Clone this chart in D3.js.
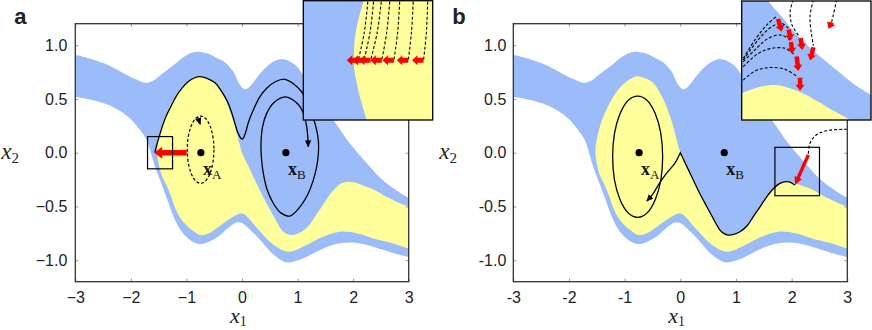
<!DOCTYPE html>
<html>
<head>
<meta charset="utf-8">
<script src="https://cdn.jsdelivr.net/npm/d3@7"></script>
<style>
  body { margin: 0; background: #fff; }
  text { fill: #222; }
</style>
</head>
<body>
<div id="container"></div>
<script>
// ---- data (state-space coordinates x1, x2) ----
const xTicks = [-3, -2, -1, 0, 1, 2, 3];
const yTicks = [-1, -0.5, 0, 0.5, 1];
const xTickLabelsA = ['\u22123', '\u22122', '\u22121', '0', '1', '2', '3'];
const yTickLabelsA = ['\u22121.0', '\u22120.5', '0.0', '0.5', '1.0'];
const xTickLabelsB = ['-3', '-2', '-1', '0', '1', '2', '3'];
const yTickLabelsB = ['-1.0', '-0.5', '0.0', '0.5', '1.0'];

const pointA = [-0.74, 0];
const pointB = [0.79, 0];

// outer edges of the coloured (blue) region
const upperEdge = [[-3.05, 0.91], [-3, 0.909], [-2.7, 0.87], [-2.41, 0.816], [-2.1, 0.73], [-1.9, 0.68],
  [-1.745, 0.651], [-1.6, 0.67], [-1.45, 0.73], [-1.265, 0.80], [-1.05, 0.89], [-0.9, 0.93], [-0.786, 0.94],
  [-0.6, 0.92], [-0.45, 0.88], [-0.306, 0.84], [-0.15, 0.75], [-0.05, 0.64], [0.054, 0.59], [0.15, 0.62],
  [0.3, 0.72], [0.444, 0.80], [0.6, 0.855], [0.74, 0.87], [0.95, 0.82], [1.15, 0.68], [1.4, 0.47],
  [1.65, 0.30], [1.95, 0.08], [2.25, -0.10], [2.52, -0.25], [2.75, -0.34], [3.0, -0.42], [3.05, -0.43]];
const lowerEdge = [[-3.05, 0.525], [-3, 0.521], [-2.7, 0.49], [-2.4, 0.444], [-2.2, 0.39], [-1.985, 0.304],
  [-1.85, 0.22], [-1.715, 0.118], [-1.64, 0.0], [-1.565, -0.13], [-1.47, -0.26], [-1.385, -0.378],
  [-1.3, -0.5], [-1.205, -0.626], [-1.09, -0.73], [-0.966, -0.797], [-0.86, -0.835], [-0.756, -0.849],
  [-0.6, -0.83], [-0.426, -0.78], [-0.25, -0.70], [-0.1, -0.65], [0.0, -0.655], [0.15, -0.72],
  [0.324, -0.81], [0.55, -0.94], [0.8, -1.02], [0.95, -1.01], [1.164, -0.967], [1.464, -0.89],
  [1.764, -0.843], [2.064, -0.84], [2.364, -0.874], [2.7, -0.93], [3.0, -0.97], [3.05, -0.975]];

// basin of x_A (yellow): top edge to the cusp, separatrix, bottom edge back
const basinTop = [[-1.524, -0.02], [-1.52, 0.06], [-1.49, 0.15], [-1.44, 0.25], [-1.37, 0.35], [-1.28, 0.45],
  [-1.18, 0.54], [-1.06, 0.62], [-0.95, 0.67], [-0.85, 0.70], [-0.74, 0.71], [-0.62, 0.69], [-0.49, 0.65],
  [-0.38, 0.57], [-0.28, 0.47], [-0.2, 0.36], [-0.13, 0.25], [-0.07, 0.13], [0.0, 0.0]];
const separatrix = [[0, 0], [0.11, -0.12], [0.233, -0.254], [0.35, -0.38], [0.474, -0.50], [0.6, -0.62],
  [0.713, -0.72], [0.78, -0.75], [0.862, -0.766], [0.96, -0.76], [1.072, -0.735], [1.2, -0.68],
  [1.311, -0.595], [1.45, -0.49], [1.552, -0.41], [1.68, -0.33], [1.79, -0.285], [1.91, -0.27],
  [2.05, -0.28], [2.2, -0.31], [2.36, -0.34], [2.6, -0.41], [2.8, -0.46], [3.0, -0.50], [3.05, -0.51]];
const basinBottom = [[3.05, -0.895], [3.0, -0.89], [2.7, -0.84], [2.364, -0.797], [2.064, -0.75],
  [1.764, -0.735], [1.464, -0.78], [1.164, -0.859], [0.95, -0.91], [0.8, -0.92], [0.55, -0.85],
  [0.3, -0.72], [0.1, -0.60], [-0.005, -0.564], [-0.2, -0.61], [-0.426, -0.69], [-0.6, -0.75],
  [-0.756, -0.766], [-0.9, -0.72], [-1.085, -0.626], [-1.2, -0.52], [-1.296, -0.378], [-1.38, -0.28],
  [-1.458, -0.19], [-1.50, -0.10], [-1.524, -0.02]];

// panel a: kicked trajectory that leaves basin A and settles on B
const trajA = [[-1.57, 0.0], [-1.53, 0.08], [-1.49, 0.15], [-1.43, 0.25], [-1.37, 0.335], [-1.28, 0.43],
  [-1.19, 0.52], [-1.08, 0.60], [-0.97, 0.66], [-0.86, 0.695], [-0.756, 0.707], [-0.62, 0.69],
  [-0.486, 0.65], [-0.38, 0.58], [-0.275, 0.49], [-0.19, 0.38], [-0.126, 0.27], [-0.07, 0.18],
  [-0.02, 0.135], [0.012, 0.128], [0.06, 0.18], [0.12, 0.29], [0.203, 0.397], [0.32, 0.52], [0.444, 0.60],
  [0.6, 0.66], [0.774, 0.683], [0.93, 0.64], [1.074, 0.567], [1.18, 0.47], [1.254, 0.366], [1.33, 0.24],
  [1.373, 0.118], [1.375, 0.0], [1.344, -0.13], [1.28, -0.26], [1.193, -0.378], [1.05, -0.50],
  [0.864, -0.589], [0.7, -0.56], [0.563, -0.47], [0.45, -0.34], [0.383, -0.19], [0.35, -0.05],
  [0.342, 0.087], [0.37, 0.24], [0.444, 0.366], [0.58, 0.47], [0.774, 0.52], [0.92, 0.49], [1.044, 0.428],
  [1.12, 0.34], [1.164, 0.242], [1.185, 0.14], [1.193, 0.056]];
const cycleA = {cx: -0.745, cy: 0.028, rx: 0.24, ry: 0.313};
const cycleATail = [[-0.80, 0.335], [-0.775, 0.30], [-0.752, 0.265]];
const kickA = [[-0.995, 0], [-1.58, 0]];
const boxA = [[-1.7, 0.15], [-1.25, -0.15]];

// panel b
const cycleB = {cx: -0.766, cy: -0.037, rx: 0.449, ry: 0.564};
const trajB = [[2.06, -0.30], [1.98, -0.275], [1.91, -0.27], [1.79, -0.285], [1.68, -0.33], [1.552, -0.41],
  [1.45, -0.49], [1.311, -0.595], [1.2, -0.68], [1.072, -0.735], [0.96, -0.76], [0.862, -0.766],
  [0.78, -0.75], [0.713, -0.72], [0.6, -0.62], [0.474, -0.50], [0.35, -0.38], [0.233, -0.254],
  [0.11, -0.12], [0.0, 0.0]];
const trajBTail = [[0.0, 0.0], [-0.1, -0.1], [-0.245, -0.19], [-0.37, -0.28], [-0.485, -0.378], [-0.60, -0.45]];
const approachB = [[2.30, -0.01], [2.32, 0.07], [2.36, 0.12], [2.43, 0.16], [2.51, 0.185], [2.63, 0.205],
  [2.75, 0.213], [2.99, 0.218]];
const kickB = [[2.30, -0.02], [2.06, -0.30]];
const boxB = [[1.7, 0.05], [2.5, -0.4]];

// inset a: trajectories sliding down to the kick line, kicks to the left
const insetADomain = [[-1.7, -1.25], [0.15, -0.15]];
const insetADashes = [
  [[-1.474, 0.16], [-1.488, 0.07], [-1.509, 0.0]],
  [[-1.454, 0.16], [-1.468, 0.07], [-1.489, 0.0]],
  [[-1.427, 0.16], [-1.443, 0.07], [-1.466, 0.0]],
  [[-1.398, 0.16], [-1.410, 0.07], [-1.427, 0.0]],
  [[-1.364, 0.16], [-1.372, 0.07], [-1.385, 0.0]],
  [[-1.317, 0.16], [-1.324, 0.07], [-1.335, 0.0]],
  [[-1.267, 0.16], [-1.272, 0.07], [-1.282, 0.0]]];
const insetAKickLen = 0.040;

// inset b: own edges as drawn in the magnified view
const insetBDomain = [[1.7, 2.5], [0.05, -0.4]];
const insetBWhiteEdge = [[1.84, 0.08], [1.865, 0.05], [1.947, -0.009], [2.051, -0.085], [2.174, -0.154],
  [2.298, -0.217], [2.401, -0.268], [2.5, -0.305], [2.55, -0.32]];
const insetBYellowEdge = [[1.65, -0.31], [1.7, -0.299], [1.782, -0.28], [1.906, -0.268], [2.03, -0.287],
  [2.154, -0.324], [2.277, -0.368], [2.36, -0.396], [2.42, -0.43]];
const insetBDashes = [
  [[1.710, -0.249], [1.782, -0.215], [1.865, -0.202], [1.968, -0.208], [2.040, -0.234]],
  [[1.710, -0.198], [1.803, -0.148], [1.886, -0.129], [1.968, -0.129], [2.030, -0.154]],
  [[1.710, -0.179], [1.782, -0.135], [1.865, -0.091], [1.947, -0.079], [1.999, -0.098]],
  [[1.710, -0.167], [1.782, -0.097], [1.855, -0.041], [1.917, -0.007]],
  [[1.710, -0.173], [1.803, -0.096], [1.886, -0.047], [1.947, -0.035], [1.988, -0.053]],
  [[2.02, 0.055], [2.0, 0.011], [2.01, -0.039], [2.051, -0.080]],
  [[2.144, 0.055], [2.123, -0.006], [2.13, -0.069], [2.144, -0.119]],
  [[2.288, 0.055], [2.268, 0.0], [2.257, -0.028]]];
const insetBKicks = [
  [[2.061, -0.240], [2.061, -0.289]],
  [[2.040, -0.160], [2.051, -0.215]],
  [[2.005, -0.105], [2.013, -0.150]],
  [[1.925, -0.018], [1.947, -0.066]],
  [[1.990, -0.058], [2.005, -0.100]],
  [[2.065, -0.090], [2.075, -0.135]],
  [[2.144, -0.125], [2.123, -0.175]],
  [[2.257, -0.030], [2.237, -0.055]]];

// ---- layout ----
const w = 872, h = 330;
const blue = '#9bbbf9', yellow = '#ffff9c';
const frameTop = 23.7, frameBottom = 281.7;
const panels = [
  {key: 'a', left: 75.3, right: 408.7, xl: xTickLabelsA, yl: yTickLabelsA, inset: [303.3, 0.7, 432.7, 120]},
  {key: 'b', left: 513.3, right: 847.3, xl: xTickLabelsB, yl: yTickLabelsB, inset: [741.7, 1, 871, 120]}
];

const svg = d3.select('#container').append('svg')
  .attr('width', w).attr('height', h)
  .attr('viewBox', [0, 0, w, h])
  .style('font-family', '"Liberation Sans", Arial, sans-serif');

const defs = svg.append('defs');
defs.append('marker')
  .attr('id', 'head')
  .attr('viewBox', '0 0 10 10')
  .attr('refX', 9).attr('refY', 5)
  .attr('markerWidth', 7).attr('markerHeight', 7)
  .attr('markerUnits', 'userSpaceOnUse')
  .attr('orient', 'auto')
  .append('path').attr('d', 'M0,0.5L10,5L0,9.5Z').attr('fill', '#000');

function smooth(x, y) {
  return d3.line().x(d => x(d[0])).y(d => y(d[1])).curve(d3.curveCatmullRom.alpha(0.5));
}
function straight(x, y) {
  return d3.line().x(d => x(d[0])).y(d => y(d[1]));
}
function joinPaths(parts) {
  return parts.map((s, i) => i ? s.replace(/^M/, 'L') : s).join('') + 'Z';
}
// fat arrow as polygon, in pixels
function fatArrow(p0, p1, sw, hl, hw) {
  const dx = p1[0] - p0[0], dy = p1[1] - p0[1];
  const len = Math.hypot(dx, dy);
  const ux = dx / len, uy = dy / len, nx = -uy, ny = ux;
  const bx = p1[0] - ux * hl, by = p1[1] - uy * hl;
  return [
    [p0[0] + nx * sw / 2, p0[1] + ny * sw / 2],
    [bx + nx * sw / 2, by + ny * sw / 2],
    [bx + nx * hw / 2, by + ny * hw / 2],
    p1,
    [bx - nx * hw / 2, by - ny * hw / 2],
    [bx - nx * sw / 2, by - ny * sw / 2],
    [p0[0] - nx * sw / 2, p0[1] - ny * sw / 2]
  ].map(p => p.join(',')).join(' ');
}

panels.forEach((p, pi) => {
  const x = d3.scaleLinear().domain([-3, 3]).range([p.left, p.right]);
  const y = d3.scaleLinear().domain([-1.2, 1.2]).range([frameBottom, frameTop]);
  const g = svg.append('g');
  const clipId = 'clip' + p.key;
  defs.append('clipPath').attr('id', clipId).append('rect')
    .attr('x', p.left).attr('y', frameTop)
    .attr('width', p.right - p.left).attr('height', frameBottom - frameTop);

  const sm = smooth(x, y);
  const regions = g.append('g').attr('clip-path', `url(#${clipId})`);
  regions.append('path')
    .attr('d', joinPaths([sm(upperEdge), sm(lowerEdge.slice().reverse())]))
    .attr('fill', blue);
  regions.append('path')
    .attr('d', joinPaths([sm(basinTop), sm(separatrix), sm(basinBottom)]))
    .attr('fill', yellow);

  // axes: ticks inside on all four sides
  const tickStyle = sel => {
    sel.select('.domain').remove();
    sel.selectAll('.tick line').attr('stroke', '#999').attr('stroke-width', 1);
    sel.selectAll('.tick text').attr('font-size', 16).attr('fill', '#222')
      .attr('font-family', '"Liberation Sans", Arial, sans-serif');
  };
  g.append('g').attr('transform', `translate(0,${frameBottom})`)
    .call(d3.axisBottom(x).tickValues(xTicks).tickFormat((d, i) => p.xl[i]).tickSizeInner(-3).tickSizeOuter(0).tickPadding(10))
    .call(tickStyle);
  g.append('g').attr('transform', `translate(0,${frameTop})`)
    .call(d3.axisTop(x).tickValues(xTicks).tickFormat('').tickSizeInner(-3).tickSizeOuter(0))
    .call(tickStyle);
  g.append('g').attr('transform', `translate(${p.left},0)`)
    .call(d3.axisLeft(y).tickValues(yTicks).tickFormat((d, i) => p.yl[i]).tickSizeInner(-3).tickSizeOuter(0).tickPadding(pi ? 7 : 8))
    .call(tickStyle);
  g.append('g').attr('transform', `translate(${p.right},0)`)
    .call(d3.axisRight(y).tickValues(yTicks).tickFormat('').tickSizeInner(-3).tickSizeOuter(0))
    .call(tickStyle);

  const marks = g.append('g').attr('clip-path', `url(#${clipId})`);
  if (p.key === 'a') {
    marks.append('ellipse')
      .attr('cx', x(cycleA.cx)).attr('cy', y(cycleA.cy))
      .attr('rx', x(cycleA.cx + cycleA.rx) - x(cycleA.cx))
      .attr('ry', y(cycleA.cy) - y(cycleA.cy + cycleA.ry))
      .attr('fill', 'none').attr('stroke', '#000').attr('stroke-width', 1.2).attr('stroke-dasharray', '3,2');
    marks.append('path').attr('d', sm(cycleATail))
      .attr('fill', 'none').attr('stroke', '#000').attr('stroke-width', 1.2)
      .attr('stroke-dasharray', '3,2').attr('marker-end', 'url(#head)');
    marks.append('path').attr('d', sm(trajA))
      .attr('fill', 'none').attr('stroke', '#000').attr('stroke-width', 1.3).attr('marker-end', 'url(#head)');
    marks.append('polygon')
      .attr('points', fatArrow([x(kickA[0][0]), y(kickA[0][1])], [x(kickA[1][0]), y(kickA[1][1])], 5.5, 8, 12))
      .attr('fill', '#ff0000');
  } else {
    marks.append('ellipse')
      .attr('cx', x(cycleB.cx)).attr('cy', y(cycleB.cy))
      .attr('rx', x(cycleB.cx + cycleB.rx) - x(cycleB.cx))
      .attr('ry', y(cycleB.cy) - y(cycleB.cy + cycleB.ry))
      .attr('fill', 'none').attr('stroke', '#000').attr('stroke-width', 1.3);
    marks.append('path').attr('d', sm(trajB) + sm(trajBTail).replace(/^M/, 'L'))
      .attr('fill', 'none').attr('stroke', '#000').attr('stroke-width', 1.3).attr('marker-end', 'url(#head)');
    marks.append('path').attr('d', sm(approachB))
      .attr('fill', 'none').attr('stroke', '#000').attr('stroke-width', 1.1).attr('stroke-dasharray', '3,2');
    marks.append('polygon')
      .attr('points', fatArrow([x(kickB[0][0]), y(kickB[0][1])], [x(kickB[1][0]), y(kickB[1][1])], 3.5, 8, 8))
      .attr('fill', '#ff0000');
  }

  // fixed points and their labels
  [[pointA, 'A'], [pointB, 'B']].forEach(([pt, name]) => {
    g.append('circle').attr('cx', x(pt[0])).attr('cy', y(pt[1])).attr('r', 3.6).attr('fill', '#000');
    const t = g.append('text')
      .attr('x', x(pt[0]) + 2).attr('y', y(pt[1]) + 22)
      .attr('font-family', '"Liberation Serif", "DejaVu Serif", serif');
    t.append('tspan').text('x').attr('font-weight', 'bold').attr('font-size', 18).attr('fill', '#111');
    t.append('tspan').text(name).attr('font-size', 13).attr('dy', 4).attr('fill', '#111');
  });

  // zoom box
  const box = p.key === 'a' ? boxA : boxB;
  g.append('rect')
    .attr('x', x(box[0][0])).attr('y', y(box[0][1]))
    .attr('width', x(box[1][0]) - x(box[0][0])).attr('height', y(box[1][1]) - y(box[0][1]))
    .attr('fill', 'none').attr('stroke', '#000').attr('stroke-width', 1.2);

  // frame
  g.append('rect')
    .attr('x', p.left).attr('y', frameTop)
    .attr('width', p.right - p.left).attr('height', frameBottom - frameTop)
    .attr('fill', 'none').attr('stroke', '#333').attr('stroke-width', 1.3);

  // axis titles and panel letter
  const mathFont = '"Liberation Serif", "DejaVu Serif", serif';
  const xt = g.append('text').attr('x', (p.left + p.right) / 2 - 12).attr('y', 323)
    .attr('font-family', mathFont);
  xt.append('tspan').text('x').attr('font-style', 'italic').attr('font-size', 22);
  xt.append('tspan').text('1').attr('font-size', 14).attr('dy', 3);
  const yt = g.append('text').attr('x', p.left - 74).attr('y', 159)
    .attr('font-family', mathFont);
  yt.append('tspan').text('x').attr('font-style', 'italic').attr('font-size', 23);
  yt.append('tspan').text('2').attr('font-size', 15).attr('dy', 4);
  g.append('text').text(p.key)
    .attr('x', p.left - 61).attr('y', 24)
    .attr('font-weight', 'bold').attr('font-size', 22);

  // magnified inset
  const [ix0, iy0, ix1, iy1] = p.inset;
  const dom = p.key === 'a' ? insetADomain : insetBDomain;
  const ix = d3.scaleLinear().domain(dom[0]).range([ix0, ix1]);
  const iy = d3.scaleLinear().domain(dom[1]).range([iy0, iy1]);
  const ism = smooth(ix, iy), ist = straight(ix, iy);
  const insetClip = 'iclip' + p.key;
  defs.append('clipPath').attr('id', insetClip).append('rect')
    .attr('x', ix0).attr('y', iy0).attr('width', ix1 - ix0).attr('height', iy1 - iy0);
  const ig = g.append('g');
  ig.append('rect').attr('x', ix0).attr('y', iy0).attr('width', ix1 - ix0).attr('height', iy1 - iy0)
    .attr('fill', p.key === 'a' ? blue : '#fff');
  const ic = ig.append('g').attr('clip-path', `url(#${insetClip})`);
  if (p.key === 'a') {
    ic.append('path')
      .attr('d', joinPaths([ism(basinTop), ism(separatrix), ism(basinBottom)]))
      .attr('fill', yellow);
    insetADashes.forEach(d => {
      ic.append('path').attr('d', ism(d))
        .attr('fill', 'none').attr('stroke', '#000').attr('stroke-width', 1.1).attr('stroke-dasharray', '3,2');
      const end = d[d.length - 1];
      ic.append('polygon')
        .attr('points', fatArrow([ix(end[0]), iy(end[1])], [ix(end[0] - insetAKickLen), iy(end[1])], 5, 5.5, 10))
        .attr('fill', '#ff0000');
    });
  } else {
    ic.append('path')
      .attr('d', joinPaths([ism(insetBWhiteEdge), ist([[2.6, -0.5], [1.6, -0.5], [1.6, 0.2], [1.84, 0.2]])]))
      .attr('fill', blue);
    ic.append('path')
      .attr('d', joinPaths([ism(insetBYellowEdge), ist([[2.6, -0.5], [1.6, -0.5]])]))
      .attr('fill', yellow);
    insetBDashes.forEach(d => {
      ic.append('path').attr('d', ism(d))
        .attr('fill', 'none').attr('stroke', '#000').attr('stroke-width', 1.1).attr('stroke-dasharray', '3,2');
    });
    insetBKicks.forEach(k => {
      ic.append('polygon')
        .attr('points', fatArrow([ix(k[0][0]), iy(k[0][1])], [ix(k[1][0]), iy(k[1][1])], 4.5, 6, 9))
        .attr('fill', '#ff0000');
    });
  }
  ig.append('rect').attr('x', ix0).attr('y', iy0).attr('width', ix1 - ix0).attr('height', iy1 - iy0)
    .attr('fill', 'none').attr('stroke', '#000').attr('stroke-width', 1.3);
});
</script>
</body>
</html>
